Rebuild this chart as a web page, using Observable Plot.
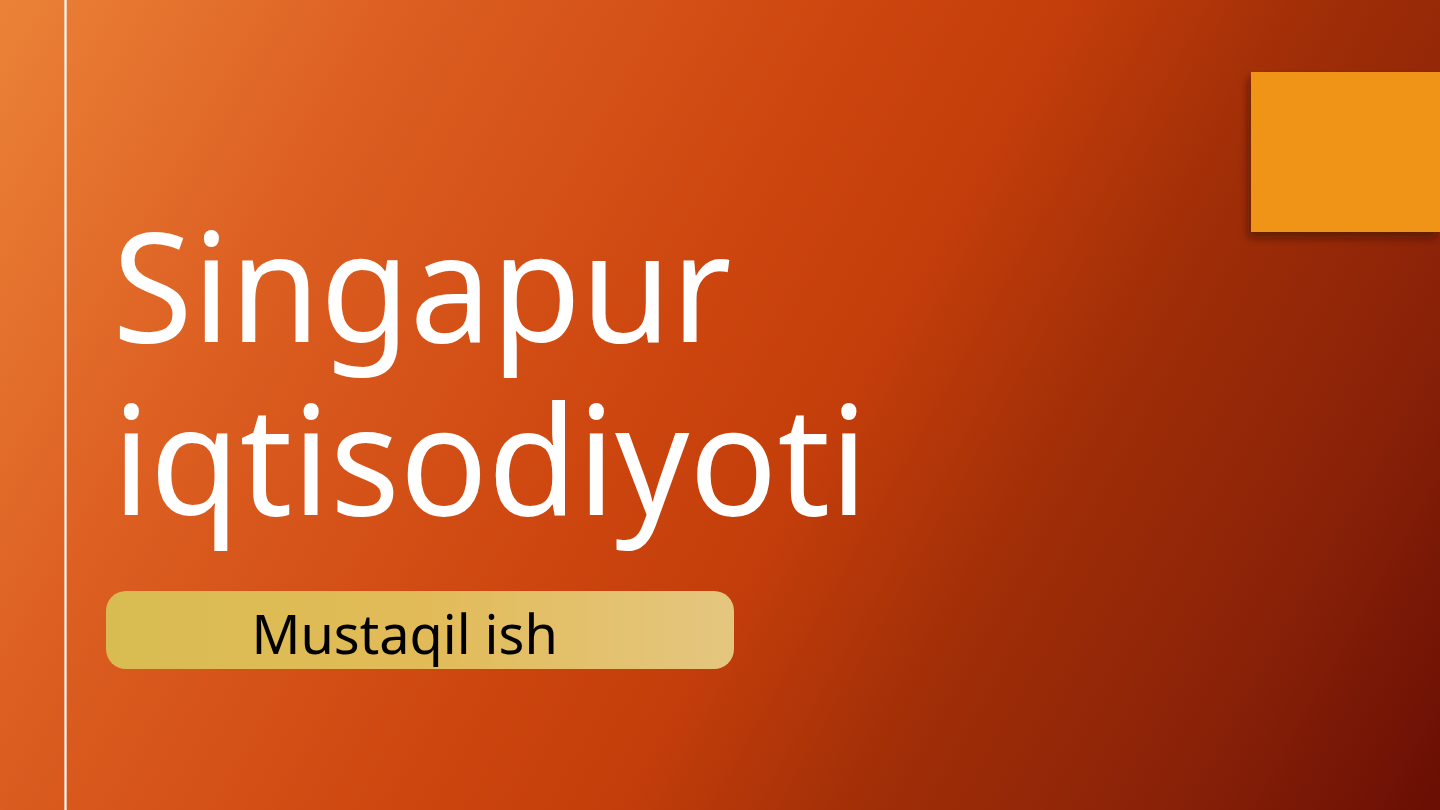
<!DOCTYPE html>
<html>
<head>
<meta charset="utf-8">
<script src="https://cdn.jsdelivr.net/npm/d3@7"></script>
<script src="https://cdn.jsdelivr.net/npm/@observablehq/plot@0.6"></script>
<style>
  html, body { margin: 0; padding: 0; overflow: hidden; background: #c9440e; }
  #slide svg { display: block; }
</style>
</head>
<body>
<div id="slide"></div>
<script>
// ---- content ----
const titleLines = ["Singapur", "iqtisodiyoti"];
const subtitleLines = ["Mustaqil ish"];
const shapes = ["background", "accentSquare", "subtitlePill"];

// ---- layout (slide coordinates, px) ----
const W = 1440, H = 810;
const boxes = [
  {id: "background",   x1: 0,    x2: 1440, y1: 0,   y2: 810},
  {id: "accentSquare", x1: 1251, x2: 1440, y1: 72,  y2: 232},
  {id: "subtitlePill", x1: 106,  x2: 734,  y1: 591, y2: 669}
];
const box = id => boxes.filter(b => b.id === id);
const ruleXs = [65];
const titleBaselines = [341, 514];
const titleX = 112;
const titleScaleX = 0.965;
const subtitleBaselines = [653];
const subtitleX = 251;

const titleData = titleLines.map((t, i) => ({text: t, x: titleX, y: titleBaselines[i]}));
const subData = subtitleLines.map((t, i) => ({text: t, x: subtitleX, y: subtitleBaselines[i]}));

function defs() {
  const d = d3.create("svg:defs");
  const bg = d.append("linearGradient").attr("id", "bgGrad")
    .attr("gradientUnits", "userSpaceOnUse")
    .attr("x1", 0).attr("y1", 0).attr("x2", W).attr("y2", H);
  [[0, "#eb8238"], [0.22, "#dc5e21"], [0.45, "#cd460f"], [0.56, "#c43e0b"],
   [0.7, "#a02e07"], [0.85, "#8a2208"], [1, "#690e04"]]
    .forEach(([o, c]) => bg.append("stop").attr("offset", o).attr("stop-color", c));
  const pill = d.append("linearGradient").attr("id", "pillGrad")
    .attr("x1", 0).attr("y1", 0).attr("x2", 1).attr("y2", 0);
  [[0, "#d8bc52"], [0.5, "#e2bb58"], [1, "#e4c67f"]]
    .forEach(([o, c]) => pill.append("stop").attr("offset", o).attr("stop-color", c));
  const f = d.append("filter").attr("id", "shadow")
    .attr("x", "-20%").attr("y", "-20%").attr("width", "140%").attr("height", "150%");
  f.append("feDropShadow").attr("dx", -3).attr("dy", 6).attr("stdDeviation", 4)
    .attr("flood-color", "#3a0800").attr("flood-opacity", 0.6);
  return d.node();
}

const chart = Plot.plot({
  width: W,
  height: H,
  margin: 0,
  x: {domain: [0, W], range: [0, W], axis: null},
  y: {domain: [0, H], range: [0, H], axis: null},
  style: {background: "transparent", overflow: "visible"},
  marks: [
    defs,
    Plot.rect(box(shapes[0]), {x1: "x1", x2: "x2", y1: "y1", y2: "y2", fill: "url(#bgGrad)"}),
    Plot.ruleX(ruleXs, {x: d => d, y1: 0, y2: H, stroke: "#ffffff", strokeWidth: 2.2}),
    Plot.rect(box(shapes[1]), {x1: "x1", x2: "x2", y1: "y1", y2: "y2", fill: "#ef9418", ariaLabel: () => "accent"}),
    Plot.rect(box(shapes[2]), {x1: "x1", x2: "x2", y1: "y1", y2: "y2", fill: "url(#pillGrad)", rx: 20}),
    Plot.text(titleData, {x: "x", y: "y", text: "text", textAnchor: "start", lineAnchor: "bottom",
      fontSize: 151, fontFamily: "Noto Sans", fill: "#ffffff", ariaLabel: () => "title"}),
    Plot.text(subData, {x: "x", y: "y", text: "text", textAnchor: "start", lineAnchor: "bottom",
      fontSize: 54, fontFamily: "Noto Sans", fill: "#000000"})
  ]
});
const root = d3.select(chart);
root.selectAll('[aria-label="accent"]').attr("filter", "url(#shadow)");
root.selectAll('text[aria-label="title"]').each(function() {
  const parent = this.parentNode;
  const wrap = document.createElementNS("http://www.w3.org/2000/svg", "g");
  wrap.setAttribute("transform", `translate(${titleX * (1 - titleScaleX)},0) scale(${titleScaleX},1)`);
  parent.insertBefore(wrap, this);
  wrap.appendChild(this);
});
document.getElementById("slide").appendChild(chart);
</script>
</body>
</html>
